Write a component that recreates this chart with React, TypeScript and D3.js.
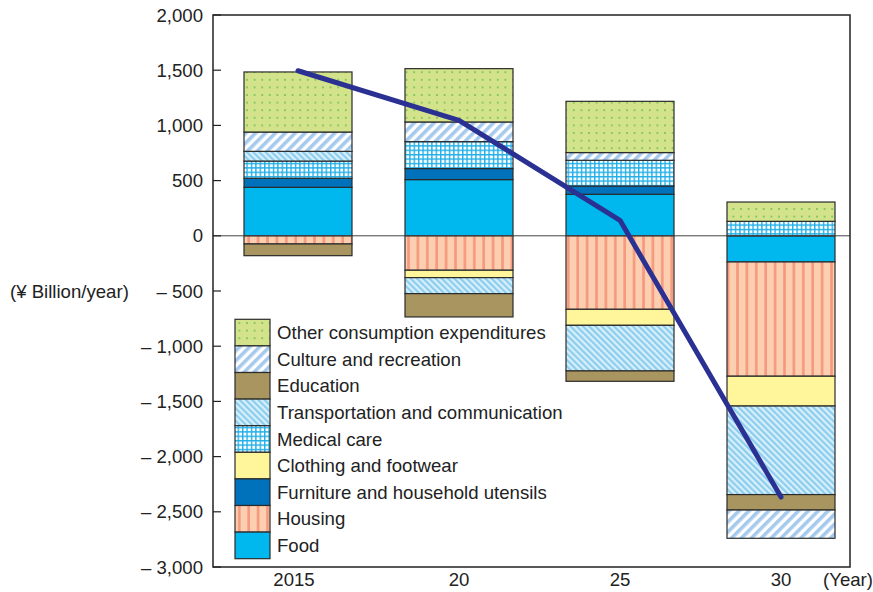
import React from "react";
import * as d3 from "d3";

// Fiscal years on the horizontal axis
const years = ["2015", "20", "25", "30"];

// Change in spending by category (¥ billion/year)
const food = [439, 509, 376, -237];
const housing = [-74, -312, -666, -1035];
const furniture = [82, 100, 75, 0];
const clothing = [0, -67, -145, -270];
const medical = [156, 244, 233, 131];
const transport = [88, -145, -413, -802];
const education = [-106, -211, -94, -140];
const culture = [175, 178, 70, -256];
const other = [544, 483, 464, 175];

// Overall change shown by the line
const totalLine = [1495, 1046, 140, -2366];

// Axis ticks
const yTicks = [2000, 1500, 1000, 500, 0, -500, -1000, -1500, -2000, -2500, -3000];

// Stacking order (bottom-up from zero)
const keys = ["food", "housing", "furniture", "clothing", "medical", "transport", "education", "culture", "other"];
const labels: Record<string, string> = {
  food: "Food",
  housing: "Housing",
  furniture: "Furniture and household utensils",
  clothing: "Clothing and footwear",
  medical: "Medical care",
  transport: "Transportation and communication",
  education: "Education",
  culture: "Culture and recreation",
  other: "Other consumption expenditures",
};
const fills: Record<string, string> = {
  food: "#00b8ee",
  housing: "url(#pHousing)",
  furniture: "#0071bb",
  clothing: "#fff59b",
  medical: "url(#pMedical)",
  transport: "url(#pTransport)",
  education: "#a8955f",
  culture: "url(#pCulture)",
  other: "url(#pOther)",
};

const series: Record<string, number[]> = { food, housing, furniture, clothing, medical, transport, education, culture, other };
const table = years.map((year, i) => {
  const row: Record<string, any> = { year };
  keys.forEach((k) => (row[k] = series[k][i]));
  return row;
});

const W = 873;
const H = 592;
const left = 213;
const right = 850;
const top = 15;
const bottom = 567;
const barW = 108;
const FS = 18.6;
const FONT = "'Liberation Sans', Arial, Helvetica, sans-serif";

export default function App() {
  const y = d3.scaleLinear().domain([-3000, 2000]).range([bottom, top]);
  const x = d3.scalePoint<string>().domain(years).range([298, 781]);

  const stacked = d3.stack<any>().keys(keys).offset(d3.stackOffsetDiverging)(table);

  const line = d3
    .line<number>()
    .x((_, i) => x(years[i]) as number)
    .y((v) => y(v));

  const fmt = (v: number) => (v < 0 ? "\u2013 " + d3.format(",")(-v) : d3.format(",")(v));

  const legendKeys = [...keys].reverse();
  const lgX = 235;
  const lgTop = 319.3;
  const lgRow = 26.6;
  const lgW = 35;

  return (
    <svg width={W} height={H} style={{ position: "absolute", left: 0, top: 0, background: "#fff" }} fontFamily={FONT}>
      <defs>
        <pattern id="pOther" width={7.6} height={7.6} patternUnits="userSpaceOnUse">
          <rect width={7.6} height={7.6} fill="#d3e38b" />
          <circle cx={3.8} cy={3.8} r={0.85} fill="#62ba4a" />
        </pattern>
        <pattern id="pCulture" width={7} height={7} patternUnits="userSpaceOnUse" patternTransform="rotate(45)">
          <rect width={7} height={7} fill="#ffffff" />
          <rect width={3.6} height={7} fill="#a5caed" />
        </pattern>
        <pattern id="pTransport" width={4.4} height={4.4} patternUnits="userSpaceOnUse" patternTransform="rotate(-45)">
          <rect width={4.4} height={4.4} fill="#d8f0fb" />
          <rect width={2.2} height={4.4} fill="#8ccdee" />
        </pattern>
        <pattern id="pMedical" width={4.4} height={4.4} patternUnits="userSpaceOnUse">
          <rect width={4.4} height={4.4} fill="#ffffff" />
          <rect width={4.4} height={1.4} fill="#22afe7" />
          <rect width={1.4} height={4.4} fill="#22afe7" />
        </pattern>
        <pattern id="pHousing" width={9.4} height={9.4} patternUnits="userSpaceOnUse">
          <rect width={9.4} height={9.4} fill="#fccfb0" />
          <rect x={3} width={2.6} height={9.4} fill="#f5987e" />
        </pattern>
      </defs>

      {/* stacked bars */}
      {stacked.map((s) => (
        <g key={s.key}>
          {s.map((d, i) => {
            const h = y(d[0]) - y(d[1]);
            if (Math.abs(h) < 0.01) return null;
            const cx = x(years[i]) as number;
            return (
              <rect
                key={i}
                x={cx - barW / 2}
                y={y(d[1])}
                width={barW}
                height={h}
                fill={fills[s.key]}
                stroke="#2b2b2b"
                strokeWidth={1.2}
              />
            );
          })}
        </g>
      ))}

      {/* zero line */}
      <line x1={left} x2={right} y1={y(0)} y2={y(0)} stroke="#444" strokeWidth={1} />

      {/* frame */}
      <rect x={left} y={top} width={right - left} height={bottom - top} fill="none" stroke="#222" strokeWidth={1.5} />

      {/* y ticks and labels */}
      {yTicks.map((t) => (
        <g key={t}>
          <line x1={left} x2={left + 8} y1={y(t)} y2={y(t)} stroke="#222" strokeWidth={1.2} />
          <text x={203} y={y(t)} dy="0.36em" textAnchor="end" fontSize={FS} fill="#222">
            {fmt(t)}
          </text>
        </g>
      ))}
      <text x={10} y={y(-500)} dy="0.36em" fontSize={FS} fill="#222">
        (¥ Billion/year)
      </text>

      {/* x labels */}
      {years.map((yr, i) => (
        <text key={yr} x={(x(yr) as number) - (i === 0 ? 4 : 0)} y={586} textAnchor="middle" fontSize={FS} fill="#222">
          {yr}
        </text>
      ))}
      <text x={823} y={586} fontSize={FS} fill="#222">
        (Year)
      </text>

      {/* overall line */}
      <path d={line(totalLine) || ""} fill="none" stroke="#2b3192" strokeWidth={5} strokeLinecap="round" strokeLinejoin="round" />

      {/* legend */}
      {legendKeys.map((k, i) => (
        <g key={k}>
          <rect
            x={lgX}
            y={lgTop + i * lgRow}
            width={lgW}
            height={lgRow}
            fill={fills[k]}
            stroke="#2b2b2b"
            strokeWidth={1.2}
          />
          <text x={277} y={lgTop + i * lgRow + lgRow / 2} dy="0.36em" fontSize={FS} fill="#222">
            {labels[k]}
          </text>
        </g>
      ))}
    </svg>
  );
}
